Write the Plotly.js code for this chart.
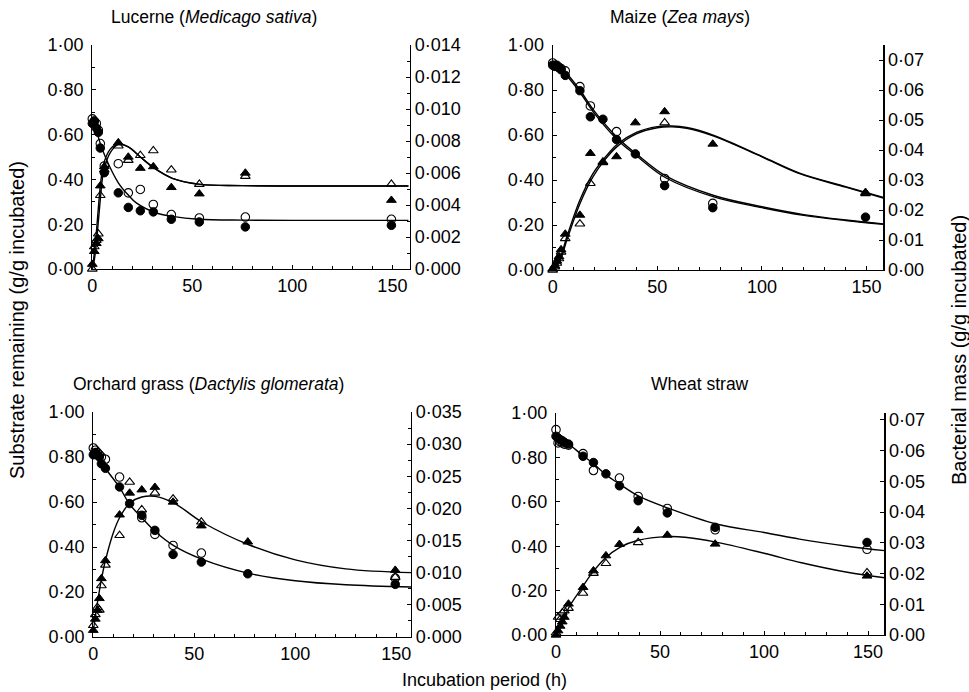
<!DOCTYPE html>
<html>
<head>
<meta charset="utf-8">
<script src="https://cdn.plot.ly/plotly-3.0.1.min.js"></script>
<style>html,body{margin:0;padding:0;background:#fff;}#chart{width:969px;height:692px;}</style>
</head>
<body>
<div id="chart"></div>
<script>
// ---------- sampling times (h) ----------
const hours = [0, 1, 2, 3, 4, 6, 13, 18, 24, 30.5, 39.5, 53.5, 76.5, 149.5];

// ---------- Lucerne (Medicago sativa) ----------
const lucSubFilled = [0.65, 0.66, 0.63, 0.61, 0.54, 0.43, 0.34, 0.275, 0.26, 0.255, 0.222, 0.21, 0.188, 0.195];
const lucSubOpen   = [0.67, 0.66, 0.65, 0.62, 0.56, 0.46, 0.47, 0.34, 0.355, 0.288, 0.243, 0.228, 0.232, 0.222];
const lucBacFilled = [0.0003, 0.0011, 0.0016, 0.0019, 0.0052, 0.0064, 0.0079, 0.0070, 0.0063, 0.0064, 0.0051, 0.0047, 0.0060, 0.0043];
const lucBacOpen   = [0.0000, 0.0014, 0.0018, 0.0022, 0.0046, 0.0062, 0.0077, 0.0068, 0.0071, 0.0074, 0.0062, 0.0053, 0.0058, 0.0053];
const lucSubFitT   = [0, 1, 2, 4, 7, 13, 18, 22, 32, 40, 53, 76, 100, 158];
const lucSubFit    = [0.665, 0.645, 0.62, 0.56, 0.49, 0.385, 0.33, 0.295, 0.25, 0.235, 0.222, 0.218, 0.217, 0.217];
const lucBacFitT   = [0, 1, 2, 3, 4, 5, 6, 9, 13, 18, 24, 31, 40, 54, 75, 158];
const lucBacFitA   = [0, 0.00098, 0.00224, 0.00378, 0.00518, 0.00616, 0.00672, 0.00749, 0.00784, 0.00763, 0.0070, 0.0063, 0.00567, 0.00529, 0.00521, 0.00519];
const lucBacFitB   = [0, 0.00056, 0.00154, 0.00294, 0.00434, 0.0056, 0.0063, 0.00728, 0.00777, 0.00763, 0.0070, 0.0063, 0.00567, 0.00529, 0.00521, 0.00519];

// ---------- Maize (Zea mays) ----------
const maiSubFilled = [0.91, 0.905, 0.91, 0.90, 0.89, 0.865, 0.797, 0.681, 0.67, 0.58, 0.516, 0.375, 0.277, 0.235];
const maiSubOpen   = [0.92, 0.91, 0.905, 0.90, 0.895, 0.885, 0.815, 0.729, null, 0.615, null, 0.407, 0.296, null];
const maiBacFilled = [0.0004, 0.0015, 0.003, 0.0045, 0.0068, 0.012, 0.0183, 0.0389, 0.0358, 0.0378, 0.0491, 0.0528, 0.042, 0.0259];
const maiBacOpen   = [0, 0.0011, 0.0023, 0.0038, 0.006, 0.0105, 0.0154, 0.0289, 0.036, null, null, 0.0491, null, 0.0255];
const maiSubFitT   = [0, 3, 7, 13, 20, 31, 40, 54, 77, 100, 120, 140, 158];
const maiSubFitA   = [0.905, 0.895, 0.86, 0.79, 0.695, 0.578, 0.508, 0.41, 0.325, 0.277, 0.243, 0.22, 0.203];
const maiSubFitB   = [0.915, 0.905, 0.87, 0.80, 0.705, 0.588, 0.516, 0.418, 0.331, 0.281, 0.246, 0.222, 0.205];
const maiBacFitT   = [0, 3, 7, 13, 19, 25, 31, 40, 50, 57, 64, 77, 100, 118, 140, 158];
const maiBacFitA   = [0, 0.003, 0.0116, 0.0233, 0.0319, 0.0375, 0.042, 0.0459, 0.0478, 0.048, 0.0475, 0.0449, 0.0379, 0.0323, 0.0278, 0.0242];
const maiBacFitB   = [0, 0.00225, 0.0105, 0.0221, 0.0308, 0.0368, 0.0413, 0.0454, 0.0474, 0.0477, 0.0472, 0.0446, 0.0377, 0.0321, 0.0276, 0.024];

// ---------- Orchard grass (Dactylis glomerata) ----------
const orcSubFilled = [0.81, 0.82, 0.81, 0.80, 0.77, 0.75, 0.667, 0.593, 0.541, 0.474, 0.367, 0.333, 0.281, 0.234];
const orcSubOpen   = [0.84, 0.83, 0.82, 0.81, 0.80, 0.79, 0.711, null, 0.53, 0.456, 0.407, 0.373, null, 0.262];
const orcBacFilled = [0.00105, 0.0028, 0.0042, 0.006, 0.0091, 0.0119, 0.019, 0.0224, 0.0229, 0.0233, 0.021, 0.0173, 0.0148, 0.0104];
const orcBacOpen   = [0.0018, 0.0035, 0.0046, 0.0042, 0.008, 0.0112, 0.0158, 0.0241, 0.0198, 0.0224, 0.0215, 0.0179, null, 0.0093];
const orcSubFitT   = [0, 2, 6, 13, 18, 24, 30.5, 40, 54, 77, 100, 125, 158];
const orcSubFit    = [0.83, 0.81, 0.75, 0.665, 0.59, 0.53, 0.47, 0.405, 0.345, 0.283, 0.25, 0.232, 0.222];
const orcBacFitT   = [0, 1, 2, 4, 6, 10, 13, 18, 24, 30.5, 40, 54, 77, 100, 125, 158];
const orcBacFit    = [0.00105, 0.00315, 0.00525, 0.00893, 0.0119, 0.0163, 0.01855, 0.02083, 0.02177, 0.02188, 0.02083, 0.01785, 0.01435, 0.012, 0.0106, 0.01];

// ---------- Wheat straw ----------
const whtSubFilled = [0.895, 0.887, 0.88, 0.875, 0.868, 0.86, 0.805, 0.777, 0.726, 0.672, 0.605, 0.55, 0.485, 0.417];
const whtSubOpen   = [0.925, 0.865, 0.87, 0.865, 0.86, 0.855, 0.817, 0.741, null, 0.707, 0.624, 0.57, 0.474, 0.386];
const whtBacFilled = [0, 0.0014, 0.0029, 0.0043, 0.0058, 0.0101, 0.0155, 0.0209, 0.0258, 0.0295, 0.034, 0.0325, 0.0296, 0.0192];
const whtBacOpen   = [0.0007, 0.0058, 0.0051, 0.0072, 0.0079, 0.0087, 0.0136, 0.0201, 0.0233, null, 0.0301, null, null, 0.0203];
const whtSubFitT   = [0, 3, 6, 12, 18, 24, 30.5, 40, 54, 77, 100, 117, 140, 158];
const whtSubFit    = [0.88, 0.872, 0.86, 0.815, 0.772, 0.722, 0.68, 0.624, 0.571, 0.5, 0.462, 0.432, 0.4, 0.38];
const whtBacFitT   = [0, 3, 6, 12.3, 17.4, 23.5, 30.7, 39.5, 53.5, 62, 76.4, 100, 118, 140, 158];
const whtBacFit    = [0, 0.0036, 0.0087, 0.0152, 0.0202, 0.0249, 0.0285, 0.0308, 0.032, 0.0318, 0.0303, 0.0266, 0.0235, 0.0204, 0.0186];

// ---------- tick labels ----------
const xTickVals = [0, 50, 100, 150];
const xTickText = ['0', '50', '100', '150'];
const leftTickVals = [0, 0.2, 0.4, 0.6, 0.8, 1.0];
const leftTickText = ['0·00', '0·20', '0·40', '0·60', '0·80', '1·00'];
const lucRightVals = [0, 0.002, 0.004, 0.006, 0.008, 0.010, 0.012, 0.014];
const lucRightText = ['0·000', '0·002', '0·004', '0·006', '0·008', '0·010', '0·012', '0·014'];
const maiRightVals = [0, 0.01, 0.02, 0.03, 0.04, 0.05, 0.06, 0.07];
const maiRightText = ['0·00', '0·01', '0·02', '0·03', '0·04', '0·05', '0·06', '0·07'];
const orcRightVals = [0, 0.005, 0.010, 0.015, 0.020, 0.025, 0.030, 0.035];
const orcRightText = ['0·000', '0·005', '0·010', '0·015', '0·020', '0·025', '0·030', '0·035'];
const whtRightVals = maiRightVals;
const whtRightText = maiRightText;

const panelTitles = ['Lucerne (<i>Medicago sativa</i>)', 'Maize (<i>Zea mays</i>)', 'Orchard grass (<i>Dactylis glomerata</i>)', 'Wheat straw'];

// ---------- styles ----------
const FONT = 'Liberation Sans, Arial, Helvetica, sans-serif';
const W = 969, H = 692;
const lineStyle = {color: '#000', width: 1.4};
const mk = {
  fc: {symbol: 'circle', size: 8.5, color: '#000', line: {color: '#000', width: 1}},
  oc: {symbol: 'circle-open', size: 8.5, color: '#000', line: {color: '#000', width: 1.1}},
  ft: {symbol: 'triangle-up', size: 8.5, color: '#000', line: {color: '#000', width: 1}},
  ot: {symbol: 'triangle-up-open', size: 8.5, color: '#000', line: {color: '#000', width: 1.1}}
};

// pixel boxes of each panel: [x0, x1, yTop, yBottom]
const boxes = [
  [92.3, 410, 45, 269],
  [552.7, 883.3, 45, 270],
  [93.3, 411, 412, 637],
  [556, 884.3, 413, 635]
];
const xMax = [158.8, 158, 157.3, 157.8];
const rightMax = [0.014, 0.075, 0.035, 0.0722];
const rightVals = [lucRightVals, maiRightVals, orcRightVals, whtRightVals];
const rightText = [lucRightText, maiRightText, orcRightText, whtRightText];
const rightMinor = [0.001, null, 0.0025, null];

const panels = [
  {sf: lucSubFilled, so: lucSubOpen, bf: lucBacFilled, bo: lucBacOpen,
   subFits: [[lucSubFitT, lucSubFit]], bacFits: [[lucBacFitT, lucBacFitA], [lucBacFitT, lucBacFitB]]},
  {sf: maiSubFilled, so: maiSubOpen, bf: maiBacFilled, bo: maiBacOpen,
   subFits: [[maiSubFitT, maiSubFitA], [maiSubFitT, maiSubFitB]], bacFits: [[maiBacFitT, maiBacFitA], [maiBacFitT, maiBacFitB]]},
  {sf: orcSubFilled, so: orcSubOpen, bf: orcBacFilled, bo: orcBacOpen,
   subFits: [[orcSubFitT, orcSubFit]], bacFits: [[orcBacFitT, orcBacFit]]},
  {sf: whtSubFilled, so: whtSubOpen, bf: whtBacFilled, bo: whtBacOpen,
   subFits: [[whtSubFitT, whtSubFit]], bacFits: [[whtBacFitT, whtBacFit]]}
];

const traces = [];
const layout = {
  width: W, height: H,
  margin: {l: 0, r: 0, t: 0, b: 0},
  paper_bgcolor: '#fff', plot_bgcolor: 'rgba(0,0,0,0)',
  showlegend: false,
  font: {family: FONT, size: 18, color: '#000'},
  annotations: []
};

panels.forEach((p, i) => {
  const n = i + 1;
  const xid = n === 1 ? 'x' : 'x' + n;
  const yL = 'y' + (2 * n - 1 === 1 ? '' : (2 * n - 1));
  const yR = 'y' + (2 * n);
  const b = boxes[i];
  const xdom = [b[0] / W, b[1] / W];
  const ydom = [1 - b[3] / H, 1 - b[2] / H];

  const axFont = {family: FONT, size: 18, color: '#000'};
  layout['xaxis' + (n === 1 ? '' : n)] = {
    domain: xdom, range: [0, xMax[i]], anchor: yL,
    showline: true, linecolor: '#000', linewidth: 1.2, mirror: false,
    showgrid: false, zeroline: false,
    tickmode: 'array', tickvals: xTickVals, ticktext: xTickText,
    ticks: 'inside', ticklen: 4, tickcolor: '#000', tickwidth: 1,
    tickfont: axFont,
    minor: {dtick: 10, tick0: 0, ticks: 'inside', ticklen: 3, tickcolor: '#000', tickwidth: 1, showgrid: false}
  };
  layout['yaxis' + (2 * n - 1 === 1 ? '' : (2 * n - 1))] = {
    domain: ydom, range: [0, 1], anchor: xid,
    showline: true, linecolor: '#000', linewidth: 1.2,
    showgrid: false, zeroline: false,
    tickmode: 'array', tickvals: leftTickVals, ticktext: leftTickText,
    ticks: 'inside', ticklen: 4, tickcolor: '#000', tickwidth: 1,
    ticklabelstandoff: 4,
    tickfont: axFont,
    minor: {dtick: 0.1, tick0: 0, ticks: 'inside', ticklen: 3, tickcolor: '#000', tickwidth: 1, showgrid: false}
  };
  const rAx = {
    range: [0, rightMax[i]], anchor: xid, overlaying: yL, side: 'right',
    showline: true, linecolor: '#000', linewidth: 1.2,
    showgrid: false, zeroline: false,
    tickmode: 'array', tickvals: rightVals[i], ticktext: rightText[i],
    ticks: 'inside', ticklen: 4, tickcolor: '#000', tickwidth: 1,
    tickfont: axFont
  };
  if (rightMinor[i]) rAx.minor = {dtick: rightMinor[i], tick0: 0, ticks: 'inside', ticklen: 3, tickcolor: '#000', tickwidth: 1, showgrid: false};
  layout['yaxis' + (2 * n)] = rAx;

  // fitted curves
  p.subFits.forEach(f => traces.push({x: f[0], y: f[1], xaxis: xid, yaxis: yL, type: 'scatter', mode: 'lines',
    line: Object.assign({shape: 'spline', smoothing: 1}, lineStyle), hoverinfo: 'skip'}));
  p.bacFits.forEach(f => traces.push({x: f[0], y: f[1], xaxis: xid, yaxis: yR, type: 'scatter', mode: 'lines',
    line: Object.assign({shape: 'spline', smoothing: 1}, lineStyle), hoverinfo: 'skip'}));
  // points
  const pts = [[p.so, mk.oc, yL], [p.sf, mk.fc, yL], [p.bo, mk.ot, yR], [p.bf, mk.ft, yR]];
  pts.forEach(q => traces.push({x: hours, y: q[0], xaxis: xid, yaxis: q[2], type: 'scatter', mode: 'markers',
    marker: q[1], cliponaxis: false}));
});

// panel titles
const titlePos = [[214, 17], [680, 17], [208, 384], [700, 384]];
panelTitles.forEach((t, i) => layout.annotations.push({
  text: t, xref: 'paper', yref: 'paper', x: titlePos[i][0] / W, y: 1 - titlePos[i][1] / H,
  xanchor: 'center', yanchor: 'middle', showarrow: false, font: {family: FONT, size: 17.5, color: '#000'}
}));
// axis titles
layout.annotations.push({text: 'Incubation period (h)', xref: 'paper', yref: 'paper', x: 484 / W, y: 1 - 680 / H,
  xanchor: 'center', yanchor: 'middle', showarrow: false, font: {family: FONT, size: 18, color: '#000'}});
layout.annotations.push({text: 'Substrate remaining (g/g incubated)', xref: 'paper', yref: 'paper', x: 17 / W, y: 1 - 320 / H,
  xanchor: 'center', yanchor: 'middle', textangle: -90, showarrow: false, font: {family: FONT, size: 20, color: '#000'}});
layout.annotations.push({text: 'Bacterial mass (g/g incubated)', xref: 'paper', yref: 'paper', x: 959 / W, y: 1 - 350 / H,
  xanchor: 'center', yanchor: 'middle', textangle: -90, showarrow: false, font: {family: FONT, size: 20, color: '#000'}});

Plotly.newPlot('chart', traces, layout, {staticPlot: true, displayModeBar: false});
</script>
</body>
</html>
